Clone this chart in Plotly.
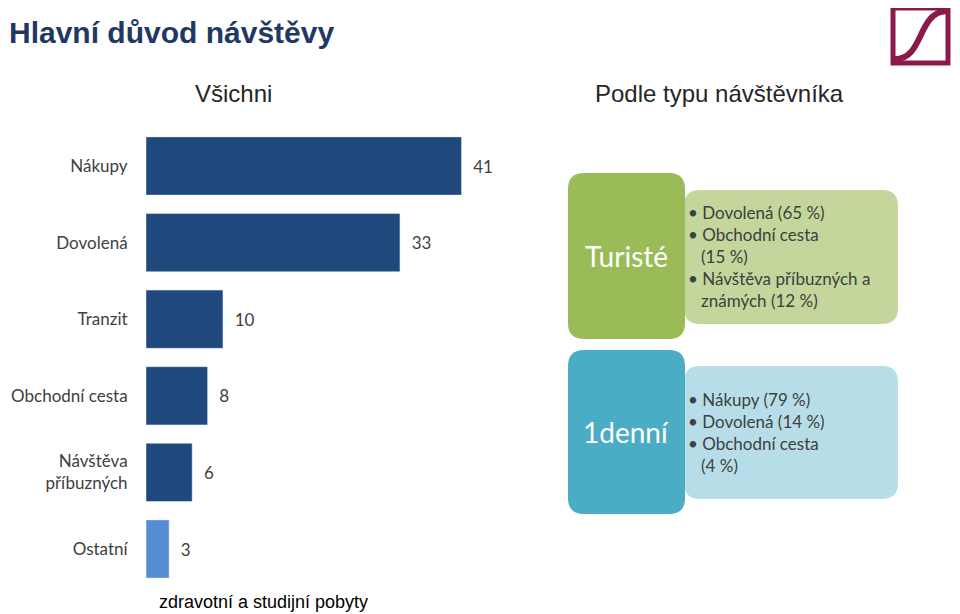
import plotly.graph_objects as go

categories = ["Nákupy", "Dovolená", "Tranzit", "Obchodní cesta", "Návštěva<br>příbuzných", "Ostatní"]
values = [41, 33, 10, 8, 6, 3]
colors = ["#1F497D"] * 5 + ["#558ED5"]

W, H = 960, 614
OX, OY = 8, 8
def px(x): return (x - OX) / W
def py(y): return 1 - (y - OY) / H

fig = go.Figure(go.Bar(
    y=categories, x=values, orientation="h", marker_color=colors,
    text=["  " + str(v) for v in values], textposition="outside",
    textfont=dict(size=17, color="#404040"), cliponaxis=False, width=0.76))

font = "Lato, 'Open Sans', sans-serif"
fig.update_layout(
    width=W, height=H, margin=dict(l=0, r=0, t=0, b=0),
    plot_bgcolor="white", paper_bgcolor="white", showlegend=False,
    font=dict(family=font, color="#404040", size=17),
    xaxis=dict(domain=[px(146), px(480)], range=[0, 43.4], visible=False),
    yaxis=dict(domain=[py(587.3), py(127.7)], autorange="reversed", showline=False,
               showgrid=False, ticks="outside", ticklen=14, tickcolor="white",
               tickfont=dict(size=17, color="#404040")),
)

def rrect(x0, y0, x1, y1, r, color):
    X0, X1 = px(x0), px(x1)
    Y0, Y1 = py(y1), py(y0)
    rx, ry = r / W, r / H
    path = (f"M{X0+rx},{Y0} L{X1-rx},{Y0} Q{X1},{Y0} {X1},{Y0+ry} L{X1},{Y1-ry} Q{X1},{Y1} {X1-rx},{Y1} "
            f"L{X0+rx},{Y1} Q{X0},{Y1} {X0},{Y1-ry} L{X0},{Y0+ry} Q{X0},{Y0} {X0+rx},{Y0} Z")
    fig.add_shape(type="path", path=path, xref="paper", yref="paper", fillcolor=color, line_width=0, layer="below")

rrect(684, 190, 898, 324, 16, "#C3D69B")
rrect(568, 173, 685, 339, 16, "#9BBB59")
rrect(684, 366, 898, 499, 16, "#B7DEE8")
rrect(568, 350, 685, 514, 16, "#4BACC6")

ARIAL = "'Liberation Sans', Arial, sans-serif"
def ann(x, y, text, size, color="#404040", xanchor="center", bold=False, family=None):
    if bold:
        text = f"<b>{text}</b>"
    f = dict(size=size, color=color)
    if family:
        f["family"] = family
    fig.add_annotation(x=px(x), y=py(y), xref="paper", yref="paper", text=text, showarrow=False,
                       xanchor=xanchor, yanchor="middle", align="left", font=f)

ann(7, 32, "Hlavní důvod návštěvy", 30, "#1F3864", "left", bold=True, family=ARIAL)
ann(233, 93, "Všichni", 24, "#262626", family=ARIAL)
ann(719, 93, "Podle typu návštěvníka", 24, "#262626", family=ARIAL)
ann(157, 602, "zdravotní a studijní pobyty", 18, "#000000", "left", family=ARIAL)
ann(626, 256, "Turisté", 28, "white")
ann(626, 432, "1denní", 28, "white")
ann(686, 257, "• Dovolená (65 %)<br>• Obchodní cesta<br>   (15 %)<br>• Návštěva příbuzných a<br>   známých (12 %)", 17, "#404040", "left")
ann(686, 432, "• Nákupy (79 %)<br>• Dovolená (14 %)<br>• Obchodní cesta<br>   (4 %)", 17, "#404040", "left")

# logo
fig.add_shape(type="rect", xref="paper", yref="paper", x0=px(893), x1=px(948), y0=py(63), y1=py(8),
              line=dict(color="#8B1A4B", width=5), fillcolor="white")
fig.add_shape(type="path", xref="paper", yref="paper",
              path=f"M{px(895)},{py(59)} C{px(924)},{py(59)} {px(917)},{py(13)} {px(946)},{py(11)}",
              line=dict(color="#8B1A4B", width=6))

fig.write_html("out.html")
